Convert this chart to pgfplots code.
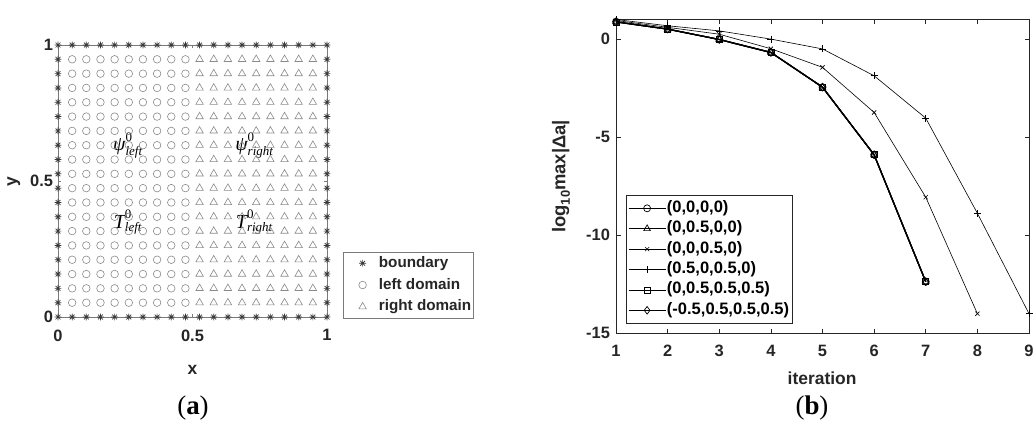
\documentclass[border=0pt]{standalone}
\usepackage{fontspec}
\setmainfont{Liberation Sans}
\newfontfamily\capfont{Liberation Serif}
\usepackage{pgfplots}
\pgfplotsset{compat=1.18}

\definecolor{axgray}{HTML}{262626}
\definecolor{bdgray}{HTML}{3A3A3A}
\definecolor{ptgray}{HTML}{8A8A8A}
\definecolor{boxgray}{HTML}{7A7A7A}

% eight-armed asterisk (plus and cross overlaid)
\pgfdeclareplotmark{mstar}{%
  \pgfpathmoveto{\pgfqpoint{-\pgfplotmarksize}{0pt}}%
  \pgfpathlineto{\pgfqpoint{\pgfplotmarksize}{0pt}}%
  \pgfpathmoveto{\pgfqpoint{0pt}{-\pgfplotmarksize}}%
  \pgfpathlineto{\pgfqpoint{0pt}{\pgfplotmarksize}}%
  \pgfpathmoveto{\pgfqpoint{-0.707\pgfplotmarksize}{-0.707\pgfplotmarksize}}%
  \pgfpathlineto{\pgfqpoint{0.707\pgfplotmarksize}{0.707\pgfplotmarksize}}%
  \pgfpathmoveto{\pgfqpoint{-0.707\pgfplotmarksize}{0.707\pgfplotmarksize}}%
  \pgfpathlineto{\pgfqpoint{0.707\pgfplotmarksize}{-0.707\pgfplotmarksize}}%
  \pgfusepathqstroke}

% serif italic variable with stacked super- and subscript
\newcommand{\fieldlabel}[3]{$\mbox{\capfont\itshape\fontsize{20}{20}\selectfont #1}^{\mbox{\capfont\fontsize{13}{13}\selectfont #2}}_{\mbox{\capfont\itshape\fontsize{13}{13}\selectfont #3}}$}

\pgfplotsset{
  tick label style={font=\fontsize{16.5}{16.5}\selectfont\bfseries, text=axgray},
  label style={font=\fontsize{17.5}{17.5}\selectfont\bfseries, text=axgray},
}

\begin{document}
\begin{tikzpicture}[x=1bp,y=1bp]
\path[use as bounding box] (0,0) rectangle (1033,423);

% ---------------- (a) computational grid ----------------
\begin{axis}[
  at={(58bp,106bp)}, anchor=south west,
  scale only axis, width=269bp, height=272bp,
  xmin=0, xmax=1, ymin=0, ymax=1,
  xtick={0,0.5,1}, xticklabels={0,0.5,1},
  ytick={0,0.5,1}, yticklabels={0,0.5,1},
  tick align=inside, major tick length=3bp,
  axis line style={boxgray, line width=0.7bp},
  tick style={boxgray, line width=0.6bp},
  xticklabel style={yshift=-9bp},
  yticklabel style={xshift=-1.5bp},
  xlabel={x}, ylabel={y},
  xlabel style={at={(axis description cs:0.5,-0.195)}, anchor=center},
  ylabel style={at={(axis description cs:-0.164,0.496)}, anchor=center, rotate=0},
  clip=false,
  legend cell align=left,
  legend style={at={(1.0595,-0.005)}, anchor=south west,
    draw=boxgray, line width=0.6bp, fill=white,
    inner xsep=0bp, inner ysep=0.5bp,
    font=\fontsize{15.3}{15.3}\selectfont\bfseries, text=axgray,
    nodes={inner xsep=2bp, inner ysep=2.35bp, text height=12.5bp, text depth=4.5bp}},
  legend image code/.code={\path (-19bp,0bp) (14bp,0bp); \draw[#1] plot coordinates {(0bp,0bp)};},
]
\addplot[only marks, mark=mstar, mark size=3.4bp, mark options={draw=bdgray, line width=0.7bp}] coordinates {
(0,0)(0.0526,0)(0.1053,0)(0.1579,0)(0.2105,0)(0.2632,0)(0.3158,0)(0.3684,0)(0.4211,0)(0.4737,0)(0.5263,0)(0.5789,0)(0.6316,0)(0.6842,0)(0.7368,0)(0.7895,0)(0.8421,0)(0.8947,0)(0.9474,0)(1,0)
(0,1)(0.0526,1)(0.1053,1)(0.1579,1)(0.2105,1)(0.2632,1)(0.3158,1)(0.3684,1)(0.4211,1)(0.4737,1)(0.5263,1)(0.5789,1)(0.6316,1)(0.6842,1)(0.7368,1)(0.7895,1)(0.8421,1)(0.8947,1)(0.9474,1)(1,1)
(0,0.0526)(0,0.1053)(0,0.1579)(0,0.2105)(0,0.2632)(0,0.3158)(0,0.3684)(0,0.4211)(0,0.4737)(0,0.5263)(0,0.5789)(0,0.6316)(0,0.6842)(0,0.7368)(0,0.7895)(0,0.8421)(0,0.8947)(0,0.9474)
(1,0.0526)(1,0.1053)(1,0.1579)(1,0.2105)(1,0.2632)(1,0.3158)(1,0.3684)(1,0.4211)(1,0.4737)(1,0.5263)(1,0.5789)(1,0.6316)(1,0.6842)(1,0.7368)(1,0.7895)(1,0.8421)(1,0.8947)(1,0.9474)
};
\addlegendentry{boundary}
\addplot[only marks, mark=o, mark size=3.8bp, mark options={draw=ptgray, line width=0.6bp}] coordinates {
(0.0526,0.0526)(0.1053,0.0526)(0.1579,0.0526)(0.2105,0.0526)(0.2632,0.0526)(0.3158,0.0526)(0.3684,0.0526)(0.4211,0.0526)(0.4737,0.0526)
(0.0526,0.1053)(0.1053,0.1053)(0.1579,0.1053)(0.2105,0.1053)(0.2632,0.1053)(0.3158,0.1053)(0.3684,0.1053)(0.4211,0.1053)(0.4737,0.1053)
(0.0526,0.1579)(0.1053,0.1579)(0.1579,0.1579)(0.2105,0.1579)(0.2632,0.1579)(0.3158,0.1579)(0.3684,0.1579)(0.4211,0.1579)(0.4737,0.1579)
(0.0526,0.2105)(0.1053,0.2105)(0.1579,0.2105)(0.2105,0.2105)(0.2632,0.2105)(0.3158,0.2105)(0.3684,0.2105)(0.4211,0.2105)(0.4737,0.2105)
(0.0526,0.2632)(0.1053,0.2632)(0.1579,0.2632)(0.2105,0.2632)(0.2632,0.2632)(0.3158,0.2632)(0.3684,0.2632)(0.4211,0.2632)(0.4737,0.2632)
(0.0526,0.3158)(0.1053,0.3158)(0.1579,0.3158)(0.2105,0.3158)(0.2632,0.3158)(0.3158,0.3158)(0.3684,0.3158)(0.4211,0.3158)(0.4737,0.3158)
(0.0526,0.3684)(0.1053,0.3684)(0.1579,0.3684)(0.2105,0.3684)(0.2632,0.3684)(0.3158,0.3684)(0.3684,0.3684)(0.4211,0.3684)(0.4737,0.3684)
(0.0526,0.4211)(0.1053,0.4211)(0.1579,0.4211)(0.2105,0.4211)(0.2632,0.4211)(0.3158,0.4211)(0.3684,0.4211)(0.4211,0.4211)(0.4737,0.4211)
(0.0526,0.4737)(0.1053,0.4737)(0.1579,0.4737)(0.2105,0.4737)(0.2632,0.4737)(0.3158,0.4737)(0.3684,0.4737)(0.4211,0.4737)(0.4737,0.4737)
(0.0526,0.5263)(0.1053,0.5263)(0.1579,0.5263)(0.2105,0.5263)(0.2632,0.5263)(0.3158,0.5263)(0.3684,0.5263)(0.4211,0.5263)(0.4737,0.5263)
(0.0526,0.5789)(0.1053,0.5789)(0.1579,0.5789)(0.2105,0.5789)(0.2632,0.5789)(0.3158,0.5789)(0.3684,0.5789)(0.4211,0.5789)(0.4737,0.5789)
(0.0526,0.6316)(0.1053,0.6316)(0.1579,0.6316)(0.2105,0.6316)(0.2632,0.6316)(0.3158,0.6316)(0.3684,0.6316)(0.4211,0.6316)(0.4737,0.6316)
(0.0526,0.6842)(0.1053,0.6842)(0.1579,0.6842)(0.2105,0.6842)(0.2632,0.6842)(0.3158,0.6842)(0.3684,0.6842)(0.4211,0.6842)(0.4737,0.6842)
(0.0526,0.7368)(0.1053,0.7368)(0.1579,0.7368)(0.2105,0.7368)(0.2632,0.7368)(0.3158,0.7368)(0.3684,0.7368)(0.4211,0.7368)(0.4737,0.7368)
(0.0526,0.7895)(0.1053,0.7895)(0.1579,0.7895)(0.2105,0.7895)(0.2632,0.7895)(0.3158,0.7895)(0.3684,0.7895)(0.4211,0.7895)(0.4737,0.7895)
(0.0526,0.8421)(0.1053,0.8421)(0.1579,0.8421)(0.2105,0.8421)(0.2632,0.8421)(0.3158,0.8421)(0.3684,0.8421)(0.4211,0.8421)(0.4737,0.8421)
(0.0526,0.8947)(0.1053,0.8947)(0.1579,0.8947)(0.2105,0.8947)(0.2632,0.8947)(0.3158,0.8947)(0.3684,0.8947)(0.4211,0.8947)(0.4737,0.8947)
(0.0526,0.9474)(0.1053,0.9474)(0.1579,0.9474)(0.2105,0.9474)(0.2632,0.9474)(0.3158,0.9474)(0.3684,0.9474)(0.4211,0.9474)(0.4737,0.9474)
};
\addlegendentry{left domain}
\addplot[only marks, mark=triangle, mark size=4.3bp, mark options={draw=ptgray, line width=0.6bp}] coordinates {
(0.5263,0.0526)(0.5789,0.0526)(0.6316,0.0526)(0.6842,0.0526)(0.7368,0.0526)(0.7895,0.0526)(0.8421,0.0526)(0.8947,0.0526)(0.9474,0.0526)
(0.5263,0.1053)(0.5789,0.1053)(0.6316,0.1053)(0.6842,0.1053)(0.7368,0.1053)(0.7895,0.1053)(0.8421,0.1053)(0.8947,0.1053)(0.9474,0.1053)
(0.5263,0.1579)(0.5789,0.1579)(0.6316,0.1579)(0.6842,0.1579)(0.7368,0.1579)(0.7895,0.1579)(0.8421,0.1579)(0.8947,0.1579)(0.9474,0.1579)
(0.5263,0.2105)(0.5789,0.2105)(0.6316,0.2105)(0.6842,0.2105)(0.7368,0.2105)(0.7895,0.2105)(0.8421,0.2105)(0.8947,0.2105)(0.9474,0.2105)
(0.5263,0.2632)(0.5789,0.2632)(0.6316,0.2632)(0.6842,0.2632)(0.7368,0.2632)(0.7895,0.2632)(0.8421,0.2632)(0.8947,0.2632)(0.9474,0.2632)
(0.5263,0.3158)(0.5789,0.3158)(0.6316,0.3158)(0.6842,0.3158)(0.7368,0.3158)(0.7895,0.3158)(0.8421,0.3158)(0.8947,0.3158)(0.9474,0.3158)
(0.5263,0.3684)(0.5789,0.3684)(0.6316,0.3684)(0.6842,0.3684)(0.7368,0.3684)(0.7895,0.3684)(0.8421,0.3684)(0.8947,0.3684)(0.9474,0.3684)
(0.5263,0.4211)(0.5789,0.4211)(0.6316,0.4211)(0.6842,0.4211)(0.7368,0.4211)(0.7895,0.4211)(0.8421,0.4211)(0.8947,0.4211)(0.9474,0.4211)
(0.5263,0.4737)(0.5789,0.4737)(0.6316,0.4737)(0.6842,0.4737)(0.7368,0.4737)(0.7895,0.4737)(0.8421,0.4737)(0.8947,0.4737)(0.9474,0.4737)
(0.5263,0.5263)(0.5789,0.5263)(0.6316,0.5263)(0.6842,0.5263)(0.7368,0.5263)(0.7895,0.5263)(0.8421,0.5263)(0.8947,0.5263)(0.9474,0.5263)
(0.5263,0.5789)(0.5789,0.5789)(0.6316,0.5789)(0.6842,0.5789)(0.7368,0.5789)(0.7895,0.5789)(0.8421,0.5789)(0.8947,0.5789)(0.9474,0.5789)
(0.5263,0.6316)(0.5789,0.6316)(0.6316,0.6316)(0.6842,0.6316)(0.7368,0.6316)(0.7895,0.6316)(0.8421,0.6316)(0.8947,0.6316)(0.9474,0.6316)
(0.5263,0.6842)(0.5789,0.6842)(0.6316,0.6842)(0.6842,0.6842)(0.7368,0.6842)(0.7895,0.6842)(0.8421,0.6842)(0.8947,0.6842)(0.9474,0.6842)
(0.5263,0.7368)(0.5789,0.7368)(0.6316,0.7368)(0.6842,0.7368)(0.7368,0.7368)(0.7895,0.7368)(0.8421,0.7368)(0.8947,0.7368)(0.9474,0.7368)
(0.5263,0.7895)(0.5789,0.7895)(0.6316,0.7895)(0.6842,0.7895)(0.7368,0.7895)(0.7895,0.7895)(0.8421,0.7895)(0.8947,0.7895)(0.9474,0.7895)
(0.5263,0.8421)(0.5789,0.8421)(0.6316,0.8421)(0.6842,0.8421)(0.7368,0.8421)(0.7895,0.8421)(0.8421,0.8421)(0.8947,0.8421)(0.9474,0.8421)
(0.5263,0.8947)(0.5789,0.8947)(0.6316,0.8947)(0.6842,0.8947)(0.7368,0.8947)(0.7895,0.8947)(0.8421,0.8947)(0.8947,0.8947)(0.9474,0.8947)
(0.5263,0.9474)(0.5789,0.9474)(0.6316,0.9474)(0.6842,0.9474)(0.7368,0.9474)(0.7895,0.9474)(0.8421,0.9474)(0.8947,0.9474)(0.9474,0.9474)
};
\addlegendentry{right domain}
\node at (axis cs:0.26,0.63) {\fieldlabel{ψ}{0}{left}};
\node at (axis cs:0.73,0.63) {\fieldlabel{ψ}{0}{right}};
\node at (axis cs:0.26,0.35) {\fieldlabel{T}{0}{left}};
\node at (axis cs:0.73,0.35) {\fieldlabel{T}{0}{right}};
\end{axis}

% ---------------- (b) convergence history ----------------
\begin{axis}[
  at={(616bp,89.7bp)}, anchor=south west,
  scale only axis, width=413bp, height=313.8bp,
  xmin=1, xmax=9, ymin=-15, ymax=1,
  xtick={1,2,3,4,5,6,7,8,9}, xticklabels={1,2,3,4,5,6,7,8,9},
  ytick={-15,-10,-5,0}, yticklabels={-15,-10,-5,0},
  tick align=inside, major tick length=4.5bp,
  axis line style={axgray, line width=0.7bp},
  tick style={axgray, line width=0.6bp},
  xticklabel style={yshift=-8bp},
  yticklabel style={xshift=-2.5bp},
  xlabel={iteration},
  ylabel={\fontsize{18.5}{18.5}\selectfont log\raisebox{-4.5bp}{\fontsize{13}{13}\selectfont 10}max|Δa|},
  xlabel style={at={(axis description cs:0.499,-0.1425)}, anchor=center},
  ylabel style={at={(axis description cs:-0.133,0.5)}, anchor=center},
  clip=false,
  legend cell align=left,
  legend style={at={(0.0242,0.4407)}, anchor=north west,
    draw=axgray, line width=0.6bp, fill=white,
    inner xsep=2bp, inner ysep=2.8bp,
    font=\fontsize{16.6}{16.6}\selectfont\bfseries, text=black,
    nodes={inner xsep=1bp, inner ysep=2.2bp, text height=12bp, text depth=4bp}},
  legend image code/.code={\draw[mark repeat=2,mark phase=2,#1,line width=0.6bp] plot coordinates {(0bp,0bp)(18.5bp,0bp)(37bp,0bp)};},
]
\addplot[black, line width=1.2bp, mark=o, mark size=3.5bp, mark options={solid, line width=0.7bp}]
  coordinates {(1,0.88)(2,0.51)(3,-0.02)(4,-0.68)(5,-2.45)(6,-5.90)(7,-12.37)};
\addlegendentry{(0,0,0,0)}
\addplot[black, line width=1.2bp, mark=triangle, mark size=3.8bp, mark options={solid, line width=0.7bp}]
  coordinates {(1,0.88)(2,0.51)(3,-0.02)(4,-0.68)(5,-2.45)(6,-5.90)(7,-12.37)};
\addlegendentry{(0,0.5,0,0)}
\addplot[black, line width=0.6bp, mark=x, mark size=3bp, mark options={solid, line width=0.6bp}]
  coordinates {(1,0.95)(2,0.60)(3,0.25)(4,-0.49)(5,-1.44)(6,-3.74)(7,-8.06)(8,-14.0)};
\addlegendentry{(0,0,0.5,0)}
\addplot[black, line width=0.6bp, mark=+, mark size=3.5bp, mark options={solid, line width=0.6bp}]
  coordinates {(1,1.0)(2,0.68)(3,0.42)(4,0.0)(5,-0.50)(6,-1.87)(7,-4.03)(8,-8.88)(9,-14.0)};
\addlegendentry{(0.5,0,0.5,0)}
\addplot[black, line width=1.2bp, mark=square, mark size=3bp, mark options={solid, line width=0.7bp}]
  coordinates {(1,0.88)(2,0.51)(3,-0.02)(4,-0.68)(5,-2.45)(6,-5.90)(7,-12.37)};
\addlegendentry{(0,0.5,0.5,0.5)}
\addplot[black, line width=1.2bp, mark=diamond, mark size=3.8bp, mark options={solid, line width=0.7bp}]
  coordinates {(1,0.88)(2,0.51)(3,-0.02)(4,-0.68)(5,-2.45)(6,-5.90)(7,-12.37)};
\addlegendentry{(-0.5,0.5,0.5,0.5)}
\end{axis}

% panel captions
\node[font=\capfont\fontsize{27}{27}\selectfont] at (193,15) {(\textbf{a})};
\node[font=\capfont\fontsize{27}{27}\selectfont] at (812,15) {(\textbf{b})};
\end{tikzpicture}
\end{document}
